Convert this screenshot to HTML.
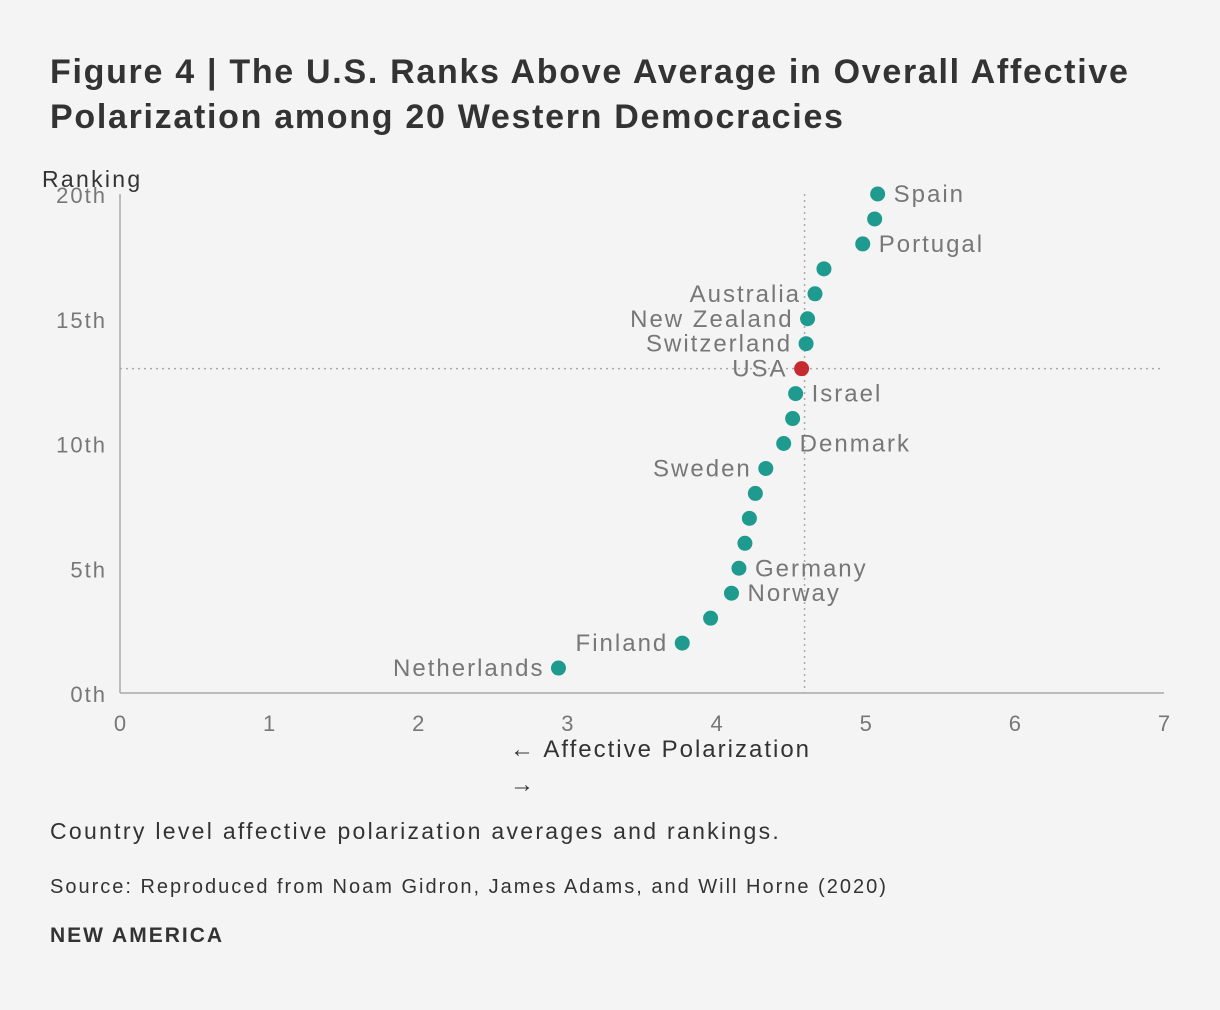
<!DOCTYPE html>
<html><head><meta charset="utf-8"><style>
body{margin:0;background:#f4f4f4;font-family:"Liberation Sans",sans-serif;}
#wrap{position:relative;width:1220px;height:1010px;overflow:hidden;}
h1{position:absolute;left:50px;top:50px;margin:0;font-size:34px;line-height:45px;font-weight:bold;color:#333;letter-spacing:1.7px;white-space:nowrap;}
.t{position:absolute;color:#333;white-space:nowrap;}
</style></head><body><div id="wrap">
<h1>Figure 4 | The U.S. Ranks Above Average in Overall Affective<br>Polarization among 20 Western Democracies</h1>
<svg id="chart" width="1220" height="800" style="position:absolute;left:0;top:0"></svg>
<div class="t" style="left:50px;top:818px;font-size:23px;letter-spacing:2.3px">Country level affective polarization averages and rankings.</div>
<div class="t" style="left:50px;top:876px;font-size:20px;letter-spacing:2px">Source: Reproduced from Noam Gidron, James Adams, and Will Horne (2020)</div>
<div class="t" style="left:50px;top:924px;font-size:21px;font-weight:bold;letter-spacing:2px">NEW AMERICA</div>
</div>
<script>
const ranks=[20,19,18,17,16,15,14,13,12,11,10,9,8,7,6,5,4,3,2,1];
const scores=[5.08,5.06,4.98,4.72,4.66,4.61,4.60,4.57,4.53,4.51,4.45,4.33,4.26,4.22,4.19,4.15,4.10,3.96,3.77,2.94];
const names=["Spain","","Portugal","","Australia","New Zealand","Switzerland","USA","Israel","","Denmark","Sweden","","","","Germany","Norway","","Finland","Netherlands"];
const sides=["r","","r","","l","l","l","l","r","","r","l","","","","r","r","","l","l"];
const xTicks=[0,1,2,3,4,5,6,7];
const yTicks=[0,5,10,15,20];
const yTickLabels=["0th","5th","10th","15th","20th"];
const avgScore=4.59, usaRank=13;
const NS="http://www.w3.org/2000/svg";
const svg=document.getElementById('chart');
const X=v=>120+v*(1044/7);
const Y=r=>693-r*(499/20);
function el(t,a,p){const e=document.createElementNS(NS,t);for(const k in a)e.setAttribute(k,a[k]);(p||svg).appendChild(e);return e;}
function txt(s,a){const e=el('text',a);e.textContent=s;return e;}
const ax=el('line',{x1:X(0),x2:X(0),y1:Y(20),y2:Y(0),stroke:'#aaa','stroke-width':1.5});

const bx=el('line',{x1:X(0),x2:X(7),y1:Y(0),y2:Y(0),stroke:'#aaa','stroke-width':1.5});

const vl=el('line',{x1:X(avgScore),x2:X(avgScore),y1:Y(20),y2:Y(0),stroke:'#aaa','stroke-width':1.5,'stroke-dasharray':'2,4'});

const hl=el('line',{x1:X(0),x2:X(7),y1:Y(usaRank),y2:Y(usaRank),stroke:'#aaa','stroke-width':1.5,'stroke-dasharray':'2,4'});

xTicks.forEach(v=>{const t=txt(v,{x:X(v),y:Y(0)+38,'text-anchor':'middle','font-size':22,fill:'#777'});
});
yTicks.forEach((v,i)=>{const t=txt(yTickLabels[i],{x:107,y:Y(v)+9,'text-anchor':'end','font-size':22,fill:'#777','letter-spacing':2});
});
const yt=txt('Ranking',{x:42,y:187,'font-size':23,fill:'#333','letter-spacing':2.3});

const xt=txt('← Affective Polarization',{x:510,y:757,'font-size':24,fill:'#333','letter-spacing':2});

const xt2=txt('→',{x:510,y:792,'font-size':24,fill:'#333'});

ranks.forEach((r,i)=>{
 const c=el('circle',{cx:X(scores[i]),cy:Y(r),r:7.5,fill:names[i]==='USA'?'#c62a2f':'#1f9a8e'});
 
 if(names[i]){const right=sides[i]==='r';
  const t=txt(names[i],{x:X(scores[i])+(right?16:-14),y:Y(r)+8,'text-anchor':right?'start':'end','font-size':24,fill:'#777','letter-spacing':right?2:0});
  if(!right) t.setAttribute('style','letter-spacing:2px');
  }
});
</script></body></html>
